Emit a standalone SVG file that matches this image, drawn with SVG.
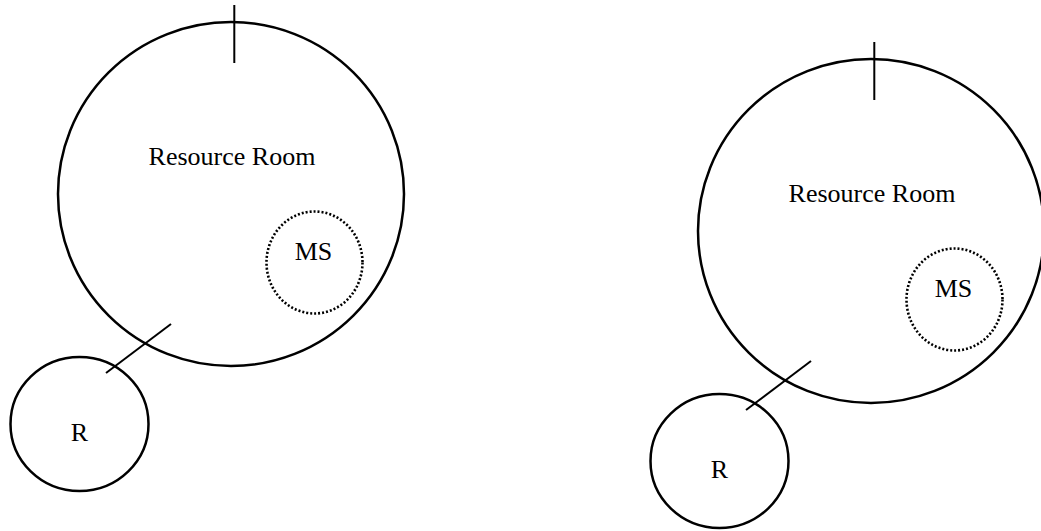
<svg xmlns="http://www.w3.org/2000/svg" width="1041" height="531" viewBox="0 0 1041 531">
<style>
.room{fill:none;stroke:#000;stroke-width:2.5}
.ms{fill:none;stroke:#000;stroke-width:2.6;stroke-dasharray:2 2}
.ln{stroke:#000;stroke-width:2;fill:none}
.lbl{font-family:"Liberation Serif","Times New Roman",serif;font-size:26px;fill:#000;text-anchor:middle}
</style>
<rect width="1041" height="531" fill="#fff"/>
<g id="left">
  <g id="room1">
    <ellipse class="room" cx="231" cy="194" rx="173" ry="172"/>
    <line class="ln" x1="234.3" y1="5" x2="234.3" y2="63"/>
    <text class="lbl" x="232" y="165">Resource Room</text>
  </g>
  <g id="ms1">
    <ellipse class="ms" cx="314.5" cy="262.5" rx="48" ry="51"/>
    <text class="lbl" x="313.5" y="260">MS</text>
  </g>
  <g id="r1">
    <ellipse class="room" cx="79.5" cy="424" rx="69" ry="67"/>
    <text class="lbl" x="79.5" y="441">R</text>
  </g>
</g>
<g id="right" transform="translate(640,37)">
  <g id="room2">
    <ellipse class="room" cx="231" cy="194" rx="173" ry="172"/>
    <line class="ln" x1="234.3" y1="5" x2="234.3" y2="63"/>
    <text class="lbl" x="232" y="165">Resource Room</text>
  </g>
  <g id="ms2">
    <ellipse class="ms" cx="314.5" cy="262.5" rx="48" ry="51"/>
    <text class="lbl" x="313.5" y="260">MS</text>
  </g>
  <g id="r2">
    <ellipse class="room" cx="79.5" cy="424" rx="69" ry="67"/>
    <text class="lbl" x="79.5" y="441">R</text>
  </g>
</g>
<g id="connectors">
  <line class="ln" x1="106" y1="373" x2="171" y2="324"/>
  <line class="ln" x1="746" y1="410" x2="811" y2="361"/>
</g>
</svg>
